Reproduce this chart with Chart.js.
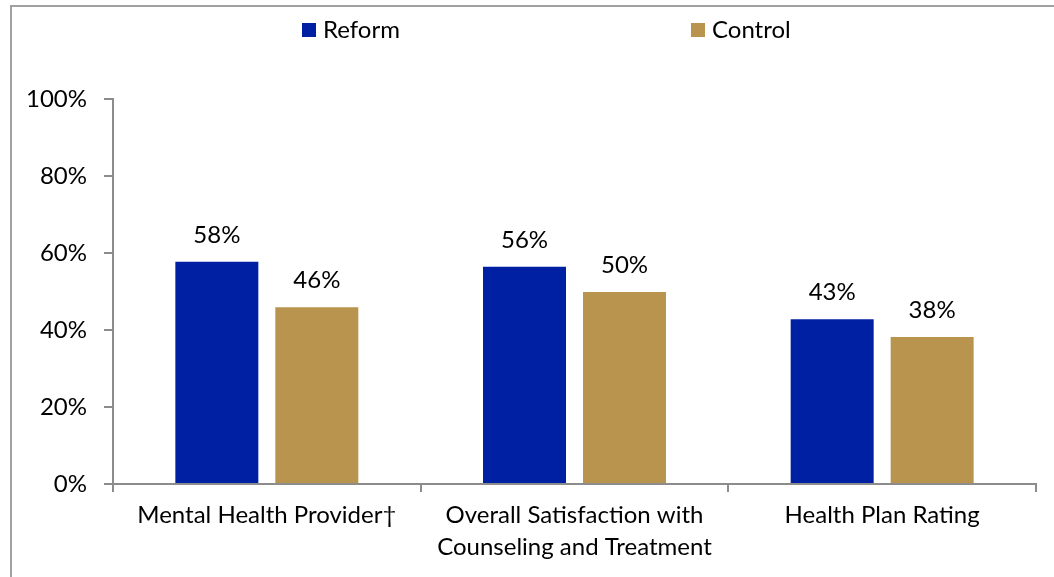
<!DOCTYPE html>
<html lang="en">
<head>
<meta charset="UTF-8">
<title>Reform vs Control</title>
<script src="https://cdn.jsdelivr.net/npm/chart.js@4.4.0/dist/chart.umd.min.js"></script>
<style>
  html, body { margin: 0; padding: 0; background: #fff; overflow: hidden; }
  #frame { position: absolute; left: 10px; top: 5px; width: 1100px; height: 620px;
           border-top: 2px solid #a0a0a0; border-left: 2px solid #a0a0a0; }
  #wrap { position: absolute; left: 0; top: 0; width: 1054px; height: 577px; }
</style>
</head>
<body>
<div id="frame"></div>
<div id="wrap"><canvas id="chart1"></canvas></div>
<script>
// categories and values (percent)
const categories = [
  'Mental Health Provider\u2020',
  ['Overall Satisfaction with', 'Counseling and Treatment'],
  'Health Plan Rating'
];
const reformValues = [57.7, 56.4, 42.8];
const controlValues = [45.9, 49.9, 38.2];
const yTicks = [0, 20, 40, 60, 80, 100];

const FONT = 'Lato, "DejaVu Sans", sans-serif';
const AXIS = '#8c8c8c';

// legend drawn spread out like the original (two items far apart)
const spreadLegend = {
  id: 'spreadLegend',
  afterDraw(chart) {
    const ctx = chart.ctx;
    const spots = [302, 691];
    ctx.save();
    ctx.font = '24px ' + FONT;
    ctx.textBaseline = 'middle';
    ctx.textAlign = 'left';
    chart.data.datasets.forEach((ds, i) => {
      ctx.fillStyle = ds.backgroundColor;
      ctx.fillRect(spots[i], 23, 14, 14);
      ctx.fillStyle = '#000';
      ctx.fillText(ds.label, spots[i] + 21, 30);
    });
    ctx.restore();
  }
};

// value labels above bars
const barLabels = {
  id: 'barLabels',
  afterDatasetsDraw(chart) {
    const ctx = chart.ctx;
    ctx.save();
    ctx.font = '24px ' + FONT;
    ctx.fillStyle = '#000';
    ctx.textAlign = 'center';
    ctx.textBaseline = 'bottom';
    chart.data.datasets.forEach((ds, i) => {
      chart.getDatasetMeta(i).data.forEach((bar, j) => {
        ctx.fillText(Math.round(ds.data[j]) + '%', bar.x, bar.y - 15);
      });
    });
    ctx.restore();
  }
};

new Chart(document.getElementById('chart1'), {
  type: 'bar',
  data: {
    labels: categories,
    datasets: [
      { label: 'Reform', data: reformValues, backgroundColor: '#0020a3' },
      { label: 'Control', data: controlValues, backgroundColor: '#b8944f' }
    ]
  },
  options: {
    responsive: true,
    maintainAspectRatio: false,
    animation: false,
    devicePixelRatio: 1,
    layout: { padding: { top: 99, right: 18, left: 0, bottom: 0 } },
    datasets: { bar: { categoryPercentage: 0.65, barPercentage: 0.83 } },
    scales: {
      x: {
        grid: { offset: true, drawOnChartArea: false, color: AXIS, lineWidth: 2, tickLength: 8 },
        border: { color: AXIS, width: 2 },
        ticks: { color: '#000', font: { family: FONT, size: 24, lineHeight: 1.3 }, padding: 8, maxRotation: 0, autoSkip: false },
        afterFit(s) { s.height = 93; }
      },
      y: {
        min: 0, max: 100,
        afterBuildTicks(s) { s.ticks = yTicks.map(v => ({ value: v })); },
        grid: { drawOnChartArea: false, color: AXIS, lineWidth: 2, tickLength: 9 },
        border: { color: AXIS, width: 2 },
        ticks: { color: '#000', font: { family: FONT, size: 24 }, padding: 17, callback: v => v + '%' },
        afterFit(s) { s.width = 113; }
      }
    },
    plugins: {
      legend: { display: false },
      tooltip: { enabled: false }
    }
  },
  plugins: [spreadLegend, barLabels]
});
</script>
</body>
</html>
